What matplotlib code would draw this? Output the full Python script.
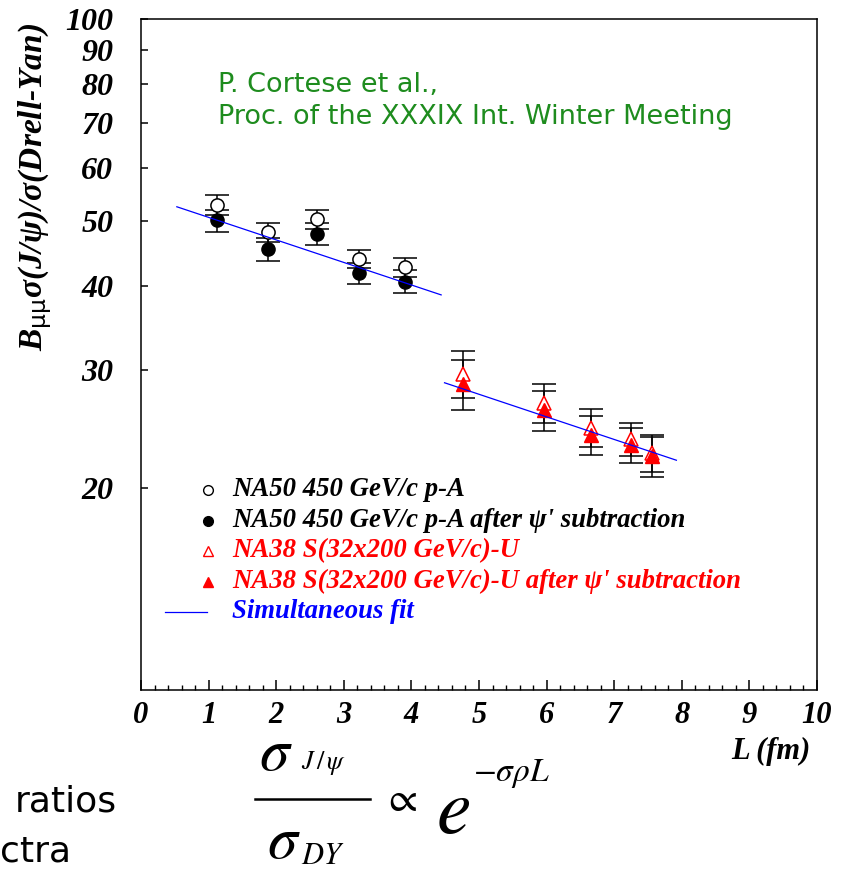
import numpy as np
import matplotlib
matplotlib.use('Agg')
import matplotlib.pyplot as plt
from matplotlib.lines import Line2D

plt.rcParams['mathtext.fontset'] = 'custom'
plt.rcParams['mathtext.rm'] = 'Liberation Serif:bold:italic'
plt.rcParams['mathtext.it'] = 'Liberation Serif:bold:italic'
plt.rcParams['mathtext.sf'] = 'DejaVu Sans'

SERIF = ['Liberation Serif', 'DejaVu Serif']

# NA50 450 GeV/c p-A
na50_L = [1.12, 1.88, 2.61, 3.22, 3.91]
na50_ratio = [52.8, 48.1, 50.3, 43.9, 42.7]
na50_err = [1.8, 1.6, 1.6, 1.3, 1.4]
na50_sub_ratio = [50.1, 45.4, 47.8, 41.8, 40.6]
na50_sub_err = [1.9, 1.8, 1.8, 1.5, 1.6]

# NA38 S-U
na38_L = [4.76, 5.96, 6.66, 7.25, 7.56]
na38_ratio = [29.6, 26.8, 24.6, 23.65, 22.55]
na38_err = [2.4, 1.8, 1.6, 1.35, 1.45]
na38_sub_ratio = [28.55, 26.1, 24.0, 23.2, 22.3]
na38_sub_err = [2.45, 1.8, 1.6, 1.4, 1.5]

# simultaneous fit, two segments
fit1_L = [0.53, 4.44]
fit1_ratio = [52.5, 38.8]
fit2_L = [4.49, 7.92]
fit2_ratio = [28.7, 22.0]

yticks = [20, 30, 40, 50, 60, 70, 80, 90, 100]

W, H = 845, 874
fig = plt.figure(figsize=(W / 100, H / 100), dpi=100)
fig.patch.set_facecolor('white')
ax = fig.add_axes([141 / W, 1 - 690 / H, 676 / W, 671 / H])

ax.set_yscale('log')
ax.set_xlim(0, 10)
ax.set_ylim(10, 100)

eb = dict(ecolor='black', elinewidth=1.1, capsize=8.5, capthick=1.1, ls='none', zorder=3)
ax.errorbar(na50_L, na50_ratio, yerr=na50_err, fmt='o', ms=9.5, mfc='white',
            mec='black', mew=1.1, **eb)
ax.errorbar(na50_L, na50_sub_ratio, yerr=na50_sub_err, fmt='o', ms=9.5, mfc='black',
            mec='black', **eb)
ax.errorbar(na38_L, na38_ratio, yerr=na38_err, fmt='^', ms=9.5, mfc='white',
            mec='red', mew=1.1, **eb)
ax.errorbar(na38_L, na38_sub_ratio, yerr=na38_sub_err, fmt='^', ms=9.5, mfc='red',
            mec='red', **eb)
ax.plot(fit1_L, fit1_ratio, color='blue', lw=0.9, zorder=4)
ax.plot(fit2_L, fit2_ratio, color='blue', lw=0.9, zorder=4)

# axes styling
for sp in ax.spines.values():
    sp.set_linewidth(1.1)
ax.set_yticks(yticks)
ax.set_yticklabels([str(v) for v in yticks])
ax.yaxis.set_minor_locator(matplotlib.ticker.NullLocator())
ax.set_xticks(range(0, 11))
ax.set_xticks(np.arange(0, 10.01, 0.2), minor=True)
ax.tick_params(axis='y', which='major', direction='in', length=5, width=1.1, pad=20,
               labelsize=23)
ax.tick_params(axis='x', which='major', direction='in', length=7, width=1.1, pad=8,
               labelsize=22)
ax.tick_params(axis='x', which='minor', direction='in', length=3.5, width=1.0)
for lab in ax.get_xticklabels() + ax.get_yticklabels():
    lab.set_family(SERIF)
    lab.set_style('italic')
    lab.set_weight('bold')

ax.set_xlabel('L (fm)', family=SERIF, style='italic', weight='bold', fontsize=22)
ax.xaxis.set_label_coords(0.99, -0.07)
ax.xaxis.label.set_ha('right')
ax.set_ylabel(r'$B_{\mathsf{\mu\mu}}$σ(J/ψ)/σ(Drell-Yan)', family=SERIF,
              style='italic', weight='bold', fontsize=24)
ax.yaxis.set_label_coords(-0.128, 0.75)

# reference note
note = dict(transform=ax.transAxes, color='#1E8C1E', fontsize=19.5,
            family='DejaVu Sans', va='center', ha='left')
ax.text(0.114, 1 - (85 - 19) / 671, 'P. Cortese et al.,', **note)
ax.text(0.114, 1 - (117 - 19) / 671, 'Proc. of the XXXIX Int. Winter Meeting', **note)

# legend, drawn row by row
labels = ['NA50 450 GeV/c p-A',
          "NA50 450 GeV/c p-A after ψ' subtraction",
          'NA38 S(32x200 GeV/c)-U',
          "NA38 S(32x200 GeV/c)-U after ψ' subtraction",
          'Simultaneous fit']
colors = ['black', 'black', 'red', 'red', 'blue']
markers = [('o', 'white', 'black'), ('o', 'black', 'black'),
           ('^', 'white', 'red'), ('^', 'red', 'red'), None]
row_top, row_step = 490, 30.5
mk_x, txt_x = (208 - 141) / 676, (232 - 141) / 676
for i, (lab, col, mk) in enumerate(zip(labels, colors, markers)):
    yy = (690 - (row_top + i * row_step)) / 671
    if mk is None:
        ax.plot([(165 - 141) / 676, (207 - 141) / 676], [yy, yy], color='blue', lw=0.9,
                transform=ax.transAxes, clip_on=False)
    else:
        ax.plot([mk_x], [yy], marker=mk[0], ms=7, mfc=mk[1], mec=mk[2], mew=1.0,
                ls='none', transform=ax.transAxes, clip_on=False)
    ax.text(txt_x, yy, lab, transform=ax.transAxes, color=col, family=SERIF,
            style='italic', weight='bold', fontsize=19.3, va='center', ha='left')

# formula below the plot
def px(x, y):
    return x / W, 1 - y / H

fig.text(*px(276, 770), r'$\sigma$', math_fontfamily='stix', fontsize=43,
         ha='center', va='baseline')
fig.text(*px(301, 769), r'$J\,/\,\psi$', math_fontfamily='stix', fontsize=19,
         ha='left', va='baseline')
fig.add_artist(Line2D([255 / W, 370 / W], [1 - 799 / H, 1 - 799 / H], color='black', lw=1.8))
fig.text(*px(284, 858), r'$\sigma$', math_fontfamily='stix', fontsize=43,
         ha='center', va='baseline')
fig.text(*px(301, 864), r'$DY$', math_fontfamily='stix', fontsize=22,
         ha='left', va='baseline')
fig.text(*px(399, 799), r'$\propto$', math_fontfamily='stix', fontsize=30,
         ha='center', va='center')
fig.text(*px(436, 833), r'$e$', math_fontfamily='stix', fontsize=56,
         ha='left', va='baseline')
fig.text(*px(473, 781), r'$-\sigma\rho L$', math_fontfamily='stix', fontsize=24,
         ha='left', va='baseline')
fig.text(*px(15, 802), 'ratios', family='DejaVu Sans', fontsize=26,
         ha='left', va='center')
fig.text(*px(0, 852), 'ctra', family='DejaVu Sans', fontsize=26,
         ha='left', va='center')

fig.savefig('out.png', dpi=100, facecolor='white')
plt.close(fig)
